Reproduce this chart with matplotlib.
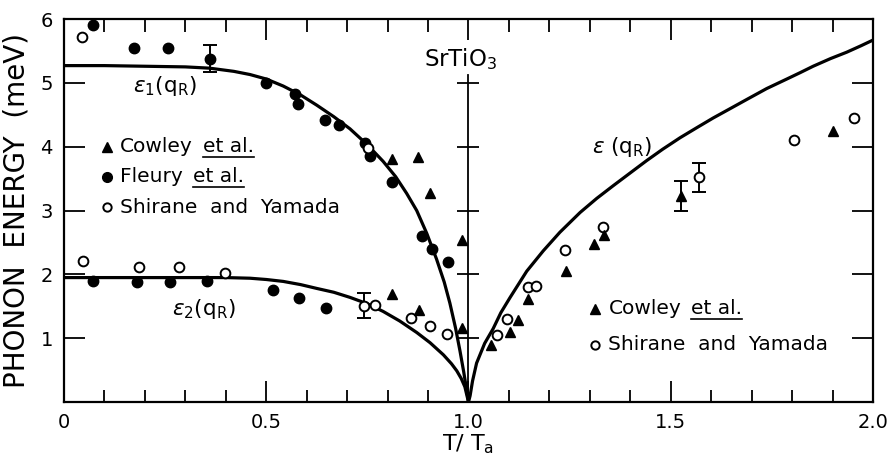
import numpy as np
import matplotlib
matplotlib.use('Agg')
import matplotlib.pyplot as plt

# theory curves
e1_x = [0.0, 0.10, 0.20, 0.30, 0.36, 0.42, 0.46, 0.50, 0.542, 0.585, 0.625, 0.667, 0.707,
        0.75, 0.789, 0.82, 0.847, 0.872, 0.897, 0.921, 0.94, 0.954, 0.968, 0.979, 0.988, 0.996, 1.0]
e1_y = [5.27, 5.27, 5.26, 5.25, 5.23, 5.18, 5.13, 5.06, 4.95, 4.81, 4.65, 4.47, 4.28,
        4.03, 3.77, 3.53, 3.27, 3.00, 2.64, 2.24, 1.88, 1.55, 1.16, 0.80, 0.48, 0.17, 0.0]

e2_x = [0.0, 0.10, 0.20, 0.30, 0.40, 0.46, 0.50, 0.542, 0.585, 0.625, 0.667, 0.707, 0.75,
        0.789, 0.83, 0.872, 0.905, 0.938, 0.958, 0.971, 0.982, 0.991, 1.0]
e2_y = [1.95, 1.95, 1.95, 1.95, 1.95, 1.94, 1.92, 1.89, 1.84, 1.78, 1.72, 1.64, 1.54,
        1.42, 1.27, 1.09, 0.93, 0.74, 0.60, 0.49, 0.37, 0.24, 0.0]

e_x = [1.0, 1.004, 1.01, 1.02, 1.04, 1.061, 1.08, 1.103, 1.144, 1.185, 1.226, 1.276, 1.317,
       1.358, 1.40, 1.44, 1.48, 1.523, 1.565, 1.605, 1.648, 1.688, 1.737, 1.787, 1.82,
       1.852, 1.895, 1.935, 1.97, 2.0]
e_y = [0.0, 0.10, 0.33, 0.61, 0.92, 1.15, 1.40, 1.64, 2.05, 2.37, 2.66, 2.97, 3.19,
       3.39, 3.59, 3.78, 3.96, 4.14, 4.30, 4.45, 4.60, 4.74, 4.91, 5.06, 5.16,
       5.26, 5.38, 5.48, 5.58, 5.67]

# Fleury et al. (filled circles)
fleury_x = [0.072, 0.174, 0.258, 0.361, 0.50, 0.571, 0.578, 0.645, 0.681, 0.744, 0.756,
            0.81, 0.884, 0.909, 0.95,
            0.071, 0.18, 0.262, 0.353, 0.516, 0.581, 0.648]
fleury_y = [5.90, 5.54, 5.54, 5.38, 5.00, 4.82, 4.67, 4.42, 4.34, 4.06, 3.85,
            3.45, 2.60, 2.39, 2.19,
            1.90, 1.88, 1.88, 1.89, 1.75, 1.63, 1.47]

# Shirane and Yamada (open circles)
shirane_x = [0.044, 0.752, 0.046, 0.186, 0.285, 0.398, 0.742, 0.77, 0.858, 0.906, 0.946,
             1.071, 1.094, 1.146, 1.167, 1.239, 1.332, 1.57, 1.805, 1.953]
shirane_y = [5.72, 3.98, 2.21, 2.11, 2.11, 2.02, 1.51, 1.52, 1.31, 1.19, 1.07,
             1.05, 1.30, 1.80, 1.82, 2.38, 2.75, 3.52, 4.11, 4.45]

# Cowley et al. (filled triangles)
cowley_x = [0.81, 0.876, 0.906, 0.985, 0.81, 0.878, 0.983,
            1.055, 1.103, 1.123, 1.146, 1.241, 1.31, 1.336, 1.525, 1.902]
cowley_y = [3.80, 3.84, 3.28, 2.54, 1.69, 1.45, 1.16,
            0.89, 1.10, 1.28, 1.61, 2.05, 2.47, 2.62, 3.23, 4.24]

# error bars
err_x = [0.361, 0.742, 1.57, 1.525]
err_y = [5.38, 1.51, 3.52, 3.23]
err_d = [0.21, 0.20, 0.23, 0.24]

plt.rcParams['font.family'] = ['DejaVu Sans']
fig = plt.figure(figsize=(8.91, 4.59), dpi=100)
ax = fig.add_axes([0.0718, 0.124, 0.908, 0.8346])
k = 'black'

ax.plot(e1_x, e1_y, color=k, lw=2.3)
ax.plot(e2_x, e2_y, color=k, lw=2.3)
ax.plot(e_x, e_y, color=k, lw=2.3)

ax.errorbar(err_x, err_y, yerr=err_d, fmt='none', ecolor=k, elinewidth=1.4, capsize=5, capthick=1.4)
ax.plot(fleury_x, fleury_y, 'o', color=k, ms=7.5)
ax.plot(shirane_x, shirane_y, 'o', mfc='white', mec=k, mew=1.4, ms=7)
ax.plot(cowley_x, cowley_y, '^', color=k, ms=7)

# inner axis at T/Ta = 1
ax.plot([1.0, 1.0], [0, 5.12], color=k, lw=1.3)
ax.plot([1.0] * 5, [1, 2, 3, 4, 5], '_', color=k, ms=16, mew=1.3)

ax.set_xlim(0, 2.0)
ax.set_ylim(0, 6)
ax.set_xticks([0, 0.5, 1.0, 1.5, 2.0])
ax.set_xticklabels(['0', '0.5', '1.0', '1.5', '2.0'])
ax.set_xticks(np.arange(0.1, 2.0, 0.1), minor=True)
ax.set_yticks([1, 2, 3, 4, 5, 6])
ax.tick_params(which='both', direction='in', top=True, right=True, width=1.3, labelsize=14, pad=8)
ax.tick_params(which='major', length=15)
ax.tick_params(which='minor', length=9)
for s in ax.spines.values():
    s.set_linewidth(1.6)

ax.set_ylabel('PHONON  ENERGY  (meV)', fontsize=20, labelpad=7)
ax.set_xlabel('T/ T$_\\mathregular{a}$', fontsize=16, labelpad=0)

ax.text(0.89, 5.37, 'SrTiO$_\\mathregular{3}$', fontsize=16.5, va='center')
ax.text(0.17, 4.95, '$\\epsilon_\\mathregular{1}$(q$_\\mathregular{R}$)', fontsize=15.5, va='center')
ax.text(0.267, 1.46, '$\\epsilon_\\mathregular{2}$(q$_\\mathregular{R}$)', fontsize=15.5, va='center')
ax.text(1.305, 4.0, '$\\epsilon$ (q$_\\mathregular{R}$)', fontsize=15.5, va='center')

# hand-drawn legends
fig.canvas.draw()
r = fig.canvas.get_renderer()


def entry(x, y, marker, filled, name, etal):
    if filled:
        ax.plot([x], [y], marker, color=k, ms=7)
    else:
        ax.plot([x], [y], marker, mfc='white', mec=k, mew=1.4, ms=6)
    t = ax.text(x + 0.033, y, name, fontsize=14.5, va='center')
    if etal:
        bb = t.get_window_extent(r)
        x2, _ = ax.transData.inverted().transform((bb.x1 + 10, bb.y0))
        t2 = ax.text(x2, y, 'et al.', fontsize=14.5, va='center')
        b2 = t2.get_window_extent(r)
        (ux0, uy), (ux1, _) = ax.transData.inverted().transform([(b2.x0, b2.y0 - 1), (b2.x1, b2.y0 - 1)])
        ax.plot([ux0, ux1], [uy, uy], color=k, lw=1.2)


entry(0.106, 4.0, '^', True, 'Cowley', True)
entry(0.106, 3.53, 'o', True, 'Fleury', True)
entry(0.106, 3.05, 'o', False, 'Shirane  and  Yamada', False)
entry(1.313, 1.46, '^', True, 'Cowley', True)
entry(1.313, 0.90, 'o', False, 'Shirane  and  Yamada', False)

fig.savefig('out.png', dpi=100)
